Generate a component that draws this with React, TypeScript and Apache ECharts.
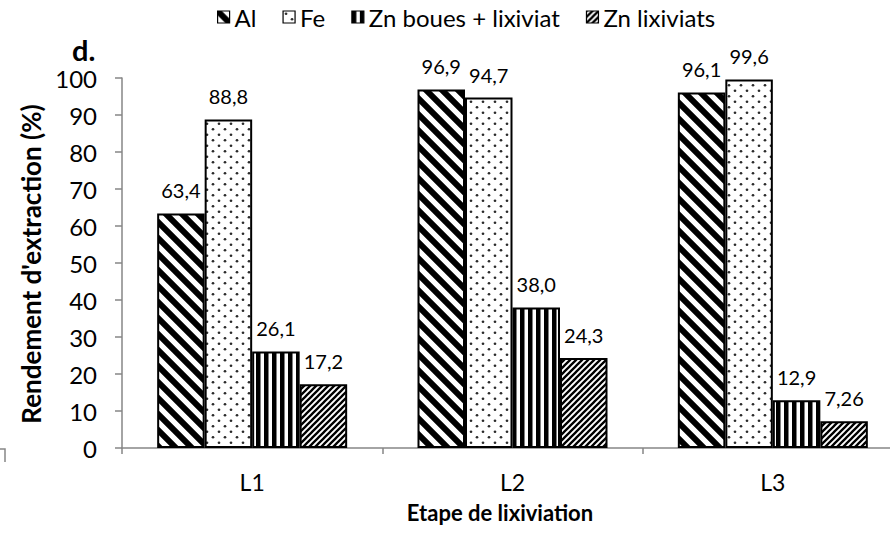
import React, { useEffect, useRef } from "react";
import * as echarts from "echarts";

const categories = ["L1", "L2", "L3"];
const seriesNames = ["Al", "Fe", "Zn boues + lixiviat", "Zn lixiviats"];
const alValues = [63.4, 96.9, 96.1];
const feValues = [88.8, 94.7, 99.6];
const znBouesValues = [26.1, 38.0, 12.9];
const znLixValues = [17.2, 24.3, 7.26];
const alLabels = ["63,4", "96,9", "96,1"];
const feLabels = ["88,8", "94,7", "99,6"];
const znBouesLabels = ["26,1", "38,0", "12,9"];
const znLixLabels = ["17,2", "24,3", "7,26"];
const yAxisTitle = "Rendement d'extraction (%)";
const xAxisTitle = "Etape de lixiviation";
const panelLetter = "d.";

const FONT = "Lato";

function svgPattern(svg: string, w: number, h: number) {
  return {
    image: "data:image/svg+xml;charset=utf-8," + encodeURIComponent(svg),
    repeat: "repeat",
    imageWidth: w,
    imageHeight: h,
  };
}

const alPattern = svgPattern(
  "<svg xmlns='http://www.w3.org/2000/svg' width='16' height='16'><rect width='16' height='16' fill='white'/><path d='M-4,-4L20,20M-4,12L4,20M12,-4L20,4' stroke='black' stroke-width='6'/></svg>",
  16,
  16
);
const fePattern = svgPattern(
  "<svg xmlns='http://www.w3.org/2000/svg' width='12' height='11'><rect width='12' height='11' fill='white'/><circle cx='3' cy='2.75' r='1.35' fill='#2a2a2a'/><circle cx='9' cy='8.25' r='1.35' fill='#2a2a2a'/></svg>",
  12,
  11
);
const znBouesPattern = svgPattern(
  "<svg xmlns='http://www.w3.org/2000/svg' width='8' height='8'><rect width='8' height='8' fill='white'/><rect x='0' y='0' width='4.5' height='8' fill='black'/></svg>",
  8,
  8
);
const znLixPattern = svgPattern(
  "<svg xmlns='http://www.w3.org/2000/svg' width='6' height='6'><rect width='6' height='6' fill='white'/><path d='M-1,7L7,-1M-1,1L1,-1M5,7L7,5' stroke='black' stroke-width='2.3'/></svg>",
  6,
  6
);

export default function App() {
  const ref = useRef<HTMLDivElement>(null);
  useEffect(() => {
    document.body.style.margin = "0";
    const chart = echarts.init(ref.current!, null, { renderer: "svg" });
    const mk = (name: string, data: number[], labels: string[], pattern: any) => ({
      type: "bar",
      name,
      data,
      barWidth: 47.5,
      barGap: "0%",
      itemStyle: { color: pattern, borderColor: "#000", borderWidth: 2 },
      label: {
        show: true,
        position: "top",
        distance: 13,
        color: "#000",
        fontFamily: FONT,
        fontSize: 20,
        formatter: (p: any) => labels[p.dataIndex],
      },
    });
    const axisLineStyle = { color: "#868686", width: 1.5 };
    chart.setOption({
      animation: false,
      grid: { left: 122, right: -13, top: 78, bottom: 91, containLabel: false, outerBoundsMode: "none" },
      legend: {
        data: seriesNames,
        top: 0,
        left: 212,
        itemWidth: 12,
        itemHeight: 12,
        itemGap: 26,
        icon: "rect",
        itemStyle: { borderColor: "#000", borderWidth: 1.2 },
        textStyle: { fontFamily: FONT, fontSize: 24, color: "#000" },
      },
      xAxis: {
        type: "category",
        data: categories,
        axisLine: { show: true, lineStyle: axisLineStyle },
        axisTick: { show: true, length: 6, lineStyle: axisLineStyle },
        axisLabel: { color: "#000", fontFamily: FONT, fontSize: 23, margin: 22 },
        splitLine: { show: false },
      },
      yAxis: {
        type: "value",
        min: 0,
        max: 100,
        interval: 10,
        splitLine: { show: false },
        axisLine: { show: true, lineStyle: axisLineStyle },
        axisTick: { show: true, length: 7, lineStyle: axisLineStyle },
        axisLabel: { color: "#000", fontFamily: FONT, fontSize: 24, margin: 25 },
      },
      graphic: [
        {
          type: "text",
          x: 72,
          y: 49,
          style: { text: panelLetter, textVerticalAlign: "middle", fill: "#000", font: `bold 29px ${FONT}` },
        },
        {
          type: "text",
          x: 31,
          y: 264,
          rotation: Math.PI / 2,
          style: {
            text: yAxisTitle,
            textAlign: "center",
            textVerticalAlign: "middle",
            fill: "#000",
            font: `bold 26px ${FONT}`,
          },
        },
        {
          type: "text",
          x: 500,
          y: 512,
          style: {
            text: xAxisTitle,
            textAlign: "center",
            textVerticalAlign: "middle",
            fill: "#000",
            font: `bold 22px ${FONT}`,
          },
        },
        {
          type: "polyline",
          shape: { points: [[0, 449], [5, 449], [5, 462]] },
          style: { stroke: "#868686", lineWidth: 1.5, fill: "none" },
        },
      ],
      series: [
        mk(seriesNames[0], alValues, alLabels, alPattern),
        mk(seriesNames[1], feValues, feLabels, fePattern),
        mk(seriesNames[2], znBouesValues, znBouesLabels, znBouesPattern),
        mk(seriesNames[3], znLixValues, znLixLabels, znLixPattern),
      ],
    });
    return () => chart.dispose();
  }, []);
  return <div ref={ref} style={{ width: 890, height: 539 }} />;
}
